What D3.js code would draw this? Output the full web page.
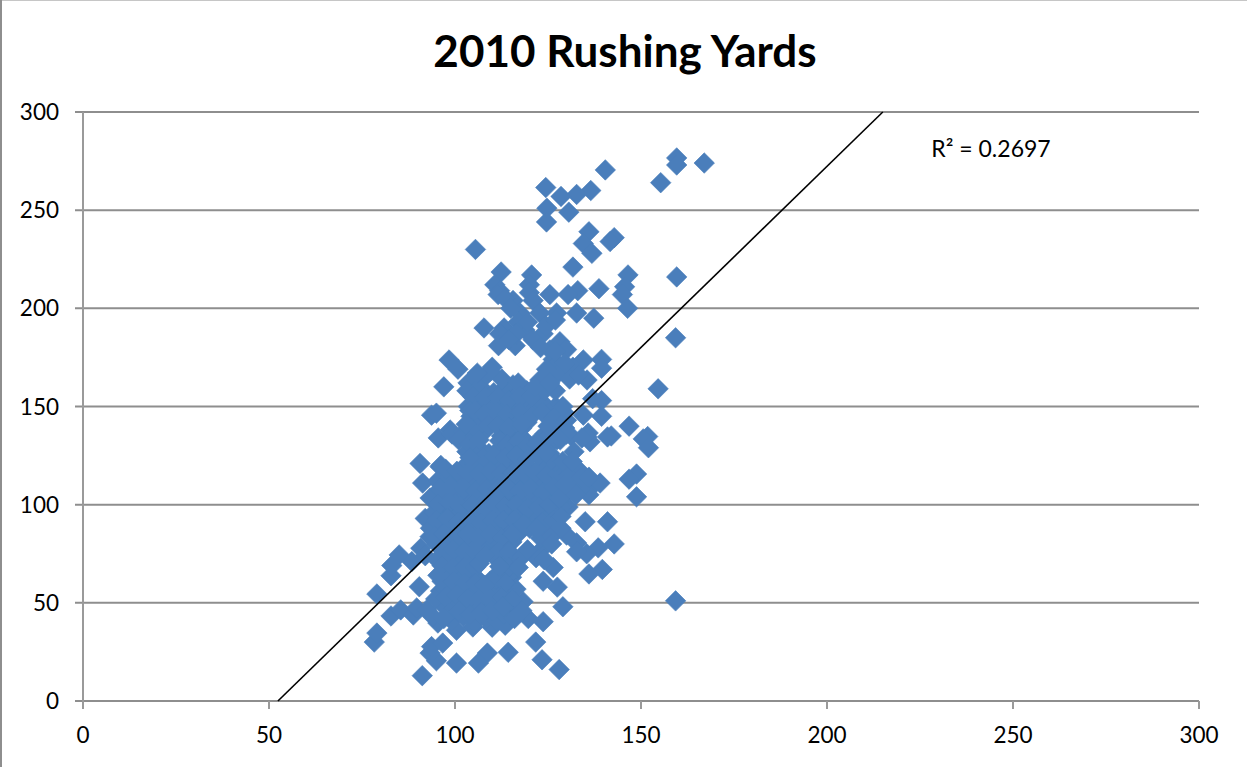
<!DOCTYPE html>
<html><head><meta charset="utf-8">
<script src="https://cdn.jsdelivr.net/npm/d3@7"></script>
<style>html,body{margin:0;padding:0;background:#fff}svg{display:block}text{font-family:Lato,sans-serif;fill:#000}</style>
</head><body><svg id="c" width="1247" height="767"></svg>
<script>
const chartTitle = "2010 Rushing Yards";
const xTicks = [0,50,100,150,200,250,300];
const yTicks = [0,50,100,150,200,250,300];
const trendX = [52.4,215];
const trendY = [0,300];
const r2Label = "R² = 0.2697";
const outerPoints = [
[167,274],[159.6,276.6],[159.6,273],[155.3,264],[140.4,270.5],[136.5,260],[132.7,258],[128.5,257],[124.4,261.5],[124.7,251],[130.6,249],[124.6,244],[136,239],[134.5,233],[136.8,228],[142.8,236],[141.7,234],[105.5,230],[131.7,221],[146.5,217],[159.6,216],
[112.4,218.5],[110.7,212],[120.6,217],[120,212],[120,208],[112,209],[111.6,207],[125.5,207],[133,209],[130.4,207],[138.7,210],[145.6,211],[145,207],[146.4,200],[115.6,204],[121,204],[117.5,197.6],[122.8,197.6],[127.3,197.6],[132.7,197.6],[137.3,195],[107.8,190],[113.2,190],[112,187],[118.8,189],[111.7,181],[116.2,181],[123.7,187],[128.2,183],[130,179],[159.3,185],[98.4,173.7],[100.8,169],[110,170],[139.4,174],[139.4,169.5],[134.5,173.7],[131.7,170],[126.4,174],[125.5,178.8],[97,160],[103.5,162],[115.6,161],[154.6,159],[135.5,163.5],[122.8,163.5],[93.7,145.6],[95,146.6],[139.4,153],[137,154],[139.4,145],[146.8,140],
[142,135],[151.8,134.7],[150.6,133.5],[152,129],[135.8,136.5],[136.3,132],[148.8,115.6],[146.8,113],[148.8,104],[137.2,110],[136,105],[130.4,98.8],[135,91.3],[141,91.3],[130,84.5],[132.7,80.5],[142.8,80],[138.5,78],[135.4,75],[132.7,76],[139.6,67],[136,64.7],[126.4,68],[123.7,61],[127.5,58],[129,48],[159.3,51],[119.7,42],[123.7,40.4],[121.7,30],[123.4,21],[128,16],[114.3,24.8],[108.7,24.4],[106.3,19.3],[100.4,19.3],[95,20.5],[93.3,24.4],[93.7,27.7],[96.7,29.5],[91.2,12.9],[78.3,30],[79,34.6],[79,54.5],[82.8,43.3],[85.4,46.4],[88.8,43.8],[89.7,47.4],[90.4,58.2],[82.8,63.8],[83,69],[85,74.4],[88.4,71],[90.8,77.8],[92,74],[110,37.6],[113.5,38.6],[104.8,37.7],[100.4,36],[95.4,39.7],[94,43],[92.4,46.4],[118.3,50.6],[115.2,48.9],[90.6,121],[91.3,111],[93.3,103.4],[92,93],[93.3,83.7],[95.5,134],[96,119.3],[98.7,138],[134.5,145.6],[135.5,134.5],[141,134.5],[139,111]
];
const densePoints = [
[103.2,158],[106.8,160],[110.4,157],[113.1,159],[116.6,156],[119.3,158],[108.5,166],[112.6,164],[117,162],[127.8,167],[130.8,164],[133.2,166],[124.6,169],
[103.6,150],[106.1,153],[109.2,149],[112.3,152],[115.2,148],[118.1,151],[121.2,149],[123.5,152],[127.1,150],[129.3,147],
[104.3,145],[107.2,142],[110.1,144],[113.3,141],[116.2,145],[119.4,142],[125.3,147],[128.2,141],
[99.2,136],[102.4,137],[105.1,134],[108.3,138],[112.5,135],[115.1,137],[118.2,134],[124.2,136],[127.4,133],[131.2,135],[134.1,134],[129.5,139],
[103.2,127],[106.4,129],[109.1,126],[112.2,129],[115.3,126],[118.4,130],[121.1,127],[124.3,129],
[96.2,120],[102.3,119],[105.2,121],[108.1,118],[111.3,122],[114.4,119],[117.1,121],[120.2,118],[123.3,120],[126.1,117],[129.2,120],[133.1,118],
[95.3,112],[98.2,114],[101.1,111],[104.3,113],[107.2,110],[110.1,114],[113.3,111],[116.4,113],[119.1,110],[122.2,112],[125.3,109],[128.1,113],[132.2,110],[134.3,109],[130.1,106],
[94.2,104],[97.1,106],[100.3,103],[103.2,105],[106.1,102],[109.3,106],[112.2,103],[115.4,105],[118.1,102],[121.3,104],[124.2,101],[127.1,105],[128.6,99],
[94.4,96],[97.3,98],[100.2,95],[103.4,97],[106.1,94],[109.2,98],[112.4,95],[115.1,97],[118.3,94],[121.2,96],[124.4,93],[126.3,97],
[93.4,88],[96.3,90],[99.1,87],[102.2,89],[105.4,86],[108.1,90],[111.3,87],[114.2,89],[117.4,86],[120.1,88],[123.2,85],[125.3,89],
[95.1,80],[98.2,82],[101.3,79],[104.1,81],[107.4,78],[110.2,82],[113.1,79],[115.3,81],[123.2,77],[121.8,73],
[95.2,72],[98.1,74],[101.2,71],[104.3,73],[110.3,74],[113.2,71],[116.1,73],
[95.4,64],[98.3,66],[101.1,63],[104.2,65],[106.2,62],[112.1,66],[115.2,63],[109.4,61],
[96.1,56],[99.2,58],[102.3,55],[105.1,57],[108.2,54],[111.3,58],[114.1,55],[116.4,57],
[97.2,48],[100.1,50],[103.4,47],[106.2,49],[109.1,46],[112.2,50],[115.1,46],[94.8,52],
[99.1,41],[102.2,43],[105.3,40],[108.2,42],[111.1,41],[113.2,44]
];
const fillPoints = [
[113.5,205],[115,200],[117,193],[119.5,193],[121,184],[123,180],[127,178],[129.5,172],[124.5,191],[127,194],[116.5,187],[114.5,184],[109.5,168],[106,167],
[104.8,155],[108,155],[111.5,155],[114.5,153],[117.5,155],[120.5,155],[124,158],[127,158],[121.5,160],[125.5,162],[104,148],
[105.5,148],[108,146],[111.5,147],[114,146],[117.5,147],[120.5,145],[123.5,147],[126.5,144],[130,143],[106,139],[103,141],[109,140.5],[111.5,140],[114.5,139],[118,139],[126.5,138],[130,136],
[101,133],[104,131],[106.5,133],[112,132.5],[114,130.5],[117,132],[119.5,130],[122.5,133],[125.5,131],[107.5,124],[104,124],[110.5,125],[113.5,124],[116.5,125],[119.5,123],[122.5,125],
[97.5,118],[100.5,117],[103.5,116],[106.5,116],[109.5,117],[112.5,116],[115.5,116],[118.5,116],[121.5,116],[124.5,115],[127.5,116],[130.5,115],[134,114],[136,114],
[96,108],[99,109],[102.5,108],[105.5,107],[108.5,108],[111.5,108],[114.5,108],[117.5,107],[120.5,108],[123.5,106],[126.5,109],[129.5,110],[132.5,105],
[95.5,100],[98.5,101],[101.5,99],[104.5,100],[107.5,98],[110.5,100],[113.5,99],[116.5,100],[119.5,98],[122.5,99],[125.5,100],[128,103],
[95,92],[98,93],[101,91],[104,92],[107,90.5],[110,92],[113,92],[116,92],[119,89.5],[123.5,91],[126.5,92],[128.5,94],
[94.5,84],[97,85],[100.5,83],[103.5,85],[106.5,83],[109.5,85],[112.5,83],[115.5,85],[123,83],[126,84],[118.5,90],
[96.5,77],[99.5,77],[102.5,76],[105.5,76],[111.5,76],[114.5,76],[124,72],
[96.5,69],[99.5,68],[102.5,68],[105.5,68],[114.5,68],
[96.5,61],[99.5,61],[102.5,60],[105.5,60],[111,62],[113.5,60],[108,59],
[97.5,53],[100.5,54],[103.5,52],[106.5,52],[109.5,52],[112.5,53],[115.5,52],
[98.5,45],[101,46],[104,44],[107,45],[110,46],[113,48],[116,42],[97,42],[118,46],
[125.5,126],[127,122],[124.5,133.5],[125,140],[118,141],[122,131],[128.3,133],[126,123],[129,122],[124.5,126],[132,127],[131.5,122],[129,150],
[118,73.5],[119.5,77],[117,68],[106.5,70],[112,68.5],[108,74],[126,80],[128.5,88],[122,88]
];
const points = outerPoints.concat(densePoints, fillPoints);

const svg = d3.select("#c");
const x = d3.scaleLinear().domain([0,300]).range([83,1199]);
const y = d3.scaleLinear().domain([0,300]).range([701,112]);
const axisColor = "#9a9a9a", gridColor = "#8e8e8e";

svg.append("rect").attr("x",0.5).attr("y",-1).attr("width",1400).attr("height",900)
  .attr("fill","none").attr("stroke","#8e8e8e").attr("stroke-width",3);

svg.append("g").selectAll("line").data(yTicks).join("line")
  .attr("x1",75).attr("x2",1199).attr("y1",d=>y(d)).attr("y2",d=>y(d))
  .attr("stroke",gridColor).attr("stroke-width",2);
svg.append("line").attr("x1",83).attr("x2",83).attr("y1",112).attr("y2",709)
  .attr("stroke",axisColor).attr("stroke-width",2);
svg.append("g").selectAll("line").data(xTicks.slice(1)).join("line")
  .attr("x1",d=>x(d)).attr("x2",d=>x(d)).attr("y1",701).attr("y2",709)
  .attr("stroke",axisColor).attr("stroke-width",2);

const sym = d3.symbol().type(d3.symbolSquare).size(210);
svg.append("g").selectAll("path").data(points).join("path")
  .attr("d",sym).attr("fill","#4a7ebb").attr("stroke","#4a7ebb").attr("stroke-width",0.6)
  .attr("transform",d=>`translate(${x(d[0])},${y(d[1])}) rotate(45)`);

svg.append("line").attr("x1",x(trendX[0])).attr("x2",x(trendX[1]))
  .attr("y1",y(trendY[0])).attr("y2",y(trendY[1]))
  .attr("stroke","#000").attr("stroke-width",1.6);

svg.append("g").selectAll("text").data(yTicks).join("text")
  .attr("x",59).attr("y",d=>y(d)+8).attr("text-anchor","end").attr("font-size",22.5).text(d=>d);
svg.append("g").selectAll("text").data(xTicks).join("text")
  .attr("x",d=>x(d)).attr("y",743).attr("text-anchor","middle").attr("font-size",22.5).text(d=>d);

svg.append("text").attr("x",625).attr("y",67).attr("text-anchor","middle")
  .attr("font-size",44).attr("font-weight",700).text(chartTitle);
svg.append("text").attr("x",991).attr("y",157).attr("text-anchor","middle")
  .attr("font-size",23).text(r2Label);
</script></body></html>
